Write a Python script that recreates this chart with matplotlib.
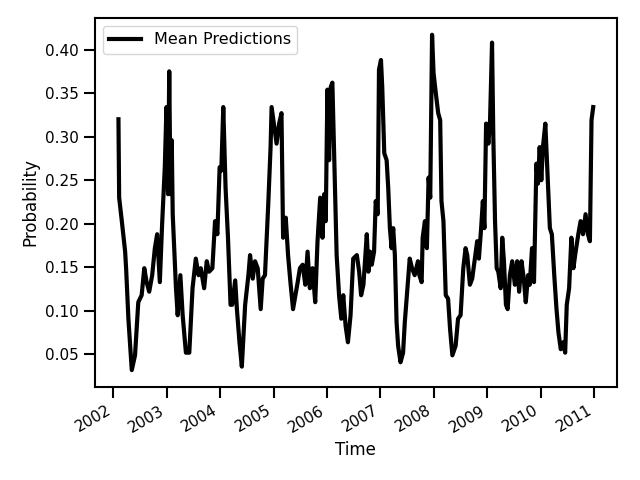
import numpy as np
import pandas as pd
import matplotlib
matplotlib.use("Agg")
import matplotlib.pyplot as plt

years = [
    2002.098, 2002.111, 2002.161, 2002.223, 2002.241, 2002.284, 2002.347, 2002.408,
    2002.469, 2002.532, 2002.581, 2002.625, 2002.673, 2002.729, 2002.779, 2002.822,
    2002.872, 2002.915, 2002.965, 2002.996, 2003.026, 2003.048, 2003.071, 2003.095,
    2003.113, 2003.174, 2003.206, 2003.256, 2003.299, 2003.360, 2003.423, 2003.484,
    2003.545, 2003.596, 2003.638, 2003.701, 2003.750, 2003.794, 2003.855, 2003.905,
    2003.948, 2003.991, 2004.022, 2004.059, 2004.102, 2004.147, 2004.195, 2004.226,
    2004.282, 2004.314, 2004.362, 2004.406, 2004.468, 2004.529, 2004.560, 2004.610,
    2004.653, 2004.703, 2004.759, 2004.796, 2004.839, 2004.900, 2004.944, 2004.963,
    2005.006, 2005.056, 2005.104, 2005.148, 2005.178, 2005.228, 2005.271, 2005.315,
    2005.364, 2005.451, 2005.493, 2005.544, 2005.594, 2005.636, 2005.679, 2005.729,
    2005.779, 2005.822, 2005.872, 2005.915, 2005.946, 2005.976, 2006.007, 2006.039,
    2006.069, 2006.100, 2006.132, 2006.180, 2006.225, 2006.267, 2006.304, 2006.347,
    2006.391, 2006.440, 2006.490, 2006.558, 2006.601, 2006.638, 2006.681, 2006.744,
    2006.774, 2006.805, 2006.837, 2006.880, 2006.911, 2006.948, 2006.972, 2007.009,
    2007.033, 2007.071, 2007.115, 2007.145, 2007.176, 2007.208, 2007.238, 2007.269,
    2007.301, 2007.330, 2007.375, 2007.423, 2007.455, 2007.505, 2007.547, 2007.590,
    2007.640, 2007.701, 2007.727, 2007.770, 2007.789, 2007.831, 2007.868, 2007.900,
    2007.931, 2007.965, 2007.993, 2008.035, 2008.080, 2008.117, 2008.141, 2008.178,
    2008.221, 2008.265, 2008.302, 2008.345, 2008.406, 2008.451, 2008.499, 2008.549,
    2008.592, 2008.623, 2008.673, 2008.716, 2008.759, 2008.809, 2008.841, 2008.883,
    2008.915, 2008.944, 2008.976, 2009.019, 2009.050, 2009.087, 2009.111, 2009.143,
    2009.174, 2009.204, 2009.249, 2009.278, 2009.310, 2009.347, 2009.379, 2009.421,
    2009.464, 2009.514, 2009.557, 2009.594, 2009.638, 2009.681, 2009.718, 2009.761,
    2009.792, 2009.835, 2009.872, 2009.917, 2009.946, 2009.978, 2010.009, 2010.039,
    2010.084, 2010.126, 2010.169, 2010.206, 2010.251, 2010.293, 2010.330, 2010.373,
    2010.418, 2010.455, 2010.485, 2010.529, 2010.571, 2010.609, 2010.651, 2010.701,
    2010.744, 2010.789, 2010.837, 2010.881, 2010.918, 2010.948, 2010.980,
]
probs = [
    0.320, 0.230, 0.203, 0.168, 0.149, 0.091, 0.032, 0.049,
    0.110, 0.118, 0.149, 0.133, 0.122, 0.141, 0.172, 0.188,
    0.133, 0.200, 0.265, 0.334, 0.234, 0.375, 0.234, 0.296,
    0.211, 0.126, 0.095, 0.141, 0.095, 0.052, 0.052, 0.126,
    0.160, 0.141, 0.149, 0.126, 0.157, 0.145, 0.149, 0.203,
    0.188, 0.265, 0.261, 0.334, 0.241, 0.184, 0.107, 0.107,
    0.135, 0.102, 0.064, 0.036, 0.107, 0.141, 0.164, 0.137,
    0.157, 0.149, 0.102, 0.137, 0.141, 0.222, 0.288, 0.334,
    0.315, 0.292, 0.315, 0.327, 0.184, 0.207, 0.164, 0.133,
    0.102, 0.133, 0.149, 0.153, 0.130, 0.168, 0.126, 0.149,
    0.110, 0.180, 0.230, 0.184, 0.234, 0.203, 0.354, 0.273,
    0.357, 0.362, 0.281, 0.164, 0.118, 0.091, 0.118, 0.083,
    0.064, 0.095, 0.160, 0.164, 0.145, 0.118, 0.130, 0.188,
    0.145, 0.168, 0.153, 0.168, 0.226, 0.211, 0.377, 0.388,
    0.357, 0.281, 0.273, 0.241, 0.195, 0.172, 0.195, 0.164,
    0.087, 0.060, 0.041, 0.052, 0.087, 0.126, 0.160, 0.149,
    0.141, 0.157, 0.141, 0.133, 0.184, 0.203, 0.172, 0.253,
    0.230, 0.417, 0.373, 0.350, 0.327, 0.319, 0.226, 0.203,
    0.118, 0.114, 0.079, 0.049, 0.060, 0.091, 0.095, 0.149,
    0.172, 0.164, 0.130, 0.137, 0.157, 0.180, 0.160, 0.195,
    0.226, 0.195, 0.315, 0.292, 0.319, 0.408, 0.300, 0.203,
    0.149, 0.145, 0.126, 0.184, 0.157, 0.107, 0.102, 0.141,
    0.157, 0.130, 0.157, 0.122, 0.157, 0.137, 0.110, 0.141,
    0.130, 0.172, 0.133, 0.269, 0.246, 0.288, 0.250, 0.288,
    0.315, 0.257, 0.195, 0.188, 0.141, 0.102, 0.075, 0.056,
    0.064, 0.052, 0.107, 0.126, 0.184, 0.149, 0.168, 0.188,
    0.203, 0.188, 0.211, 0.188, 0.180, 0.319, 0.334,
]

years = np.array(years)
dates = pd.to_datetime("2002-01-01") + pd.to_timedelta((years - 2002) * 365.25, unit="D")

plt.rcParams.update({
    "font.size": 11,
    "axes.linewidth": 1.5,
    "xtick.major.size": 8,
    "ytick.major.size": 8,
    "xtick.major.width": 1.5,
    "ytick.major.width": 1.5,
    "xtick.labelsize": 11,
    "ytick.labelsize": 11,
    "axes.labelsize": 12,
    "legend.fontsize": 11.5,
})

fig, ax = plt.subplots(figsize=(6.4, 4.8), dpi=100)
ax.plot(dates, probs, color="black", linewidth=3, label="Mean Predictions")
ax.set_xlabel("Time")
ax.set_ylabel("Probability")
ax.legend(loc="upper left")
fig.autofmt_xdate()
fig.subplots_adjust(left=0.148, right=0.964, top=0.9625, bottom=0.194)

fig.savefig("out.png")
